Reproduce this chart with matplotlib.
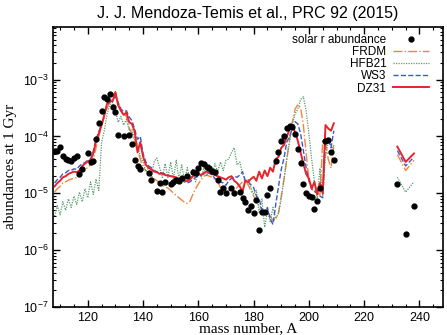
import matplotlib
matplotlib.use('Agg')
import matplotlib.pyplot as plt
import numpy as np
from matplotlib.ticker import MultipleLocator, LogLocator, FixedLocator, NullFormatter

plt.rcParams['font.family'] = ['Liberation Sans', 'DejaVu Sans']
plt.rcParams['mathtext.default'] = 'regular'

# mass numbers of the model curves
A_main = np.arange(108, 210)
A_act = [232, 235, 238]

# log10 abundances
dz31_log = [-4.88, -4.82, -4.78, -4.72, -4.70, -4.66, -4.64, -4.62, -4.63, -4.60,
            -4.52, -4.48, -4.44, -4.42, -4.30, -4.08, -3.95, -3.80, -3.62, -3.42,
            -3.38, -3.38, -3.22, -3.45, -3.55, -3.62, -3.58, -3.75, -3.78, -3.92,
            -4.28, -4.10, -4.35, -4.50, -4.55, -4.58, -4.62, -4.63, -4.66, -4.65,
            -4.68, -4.69, -4.70, -4.71, -4.72, -4.76, -4.74, -4.78, -4.79, -4.76,
            -4.70, -4.68, -4.66, -4.68, -4.64, -4.62, -4.63, -4.66, -4.68, -4.70,
            -4.72, -4.74, -4.76, -4.72, -4.70, -4.78, -4.82, -4.88, -4.97, -4.78,
            -4.80, -4.75, -4.71, -4.78, -4.62, -4.74, -4.60, -4.70, -4.55, -4.62,
            -4.40, -4.36, -4.20, -4.15, -4.00, -3.88, -3.83, -3.92, -4.08, -4.28,
            -4.48, -4.66, -4.74, -4.92, -4.80, -5.02, -4.82, -5.00, -3.80, -3.86,
            -3.90, -3.77]
ws3_log = [-4.82, -4.76, -4.72, -4.66, -4.64, -4.60, -4.60, -4.57, -4.58, -4.52,
           -4.48, -4.46, -4.42, -4.40, -4.26, -4.05, -3.92, -3.78, -3.62, -3.44,
           -3.40, -3.36, -3.30, -3.40, -3.52, -3.56, -3.55, -3.66, -3.72, -3.88,
           -4.05, -4.00, -4.30, -4.45, -4.52, -4.55, -4.60, -4.62, -4.63, -4.65,
           -4.66, -4.68, -4.70, -4.72, -4.73, -4.75, -4.77, -4.80, -4.82, -4.80,
           -4.76, -4.72, -4.70, -4.68, -4.66, -4.64, -4.65, -4.68, -4.74, -4.77,
           -4.80, -4.82, -4.86, -4.78, -4.74, -4.70, -4.72, -4.68, -4.62, -4.78,
           -4.80, -4.85, -4.90, -5.05, -5.10, -5.30, -5.38, -5.25, -5.45, -5.55,
           -5.20, -4.88, -4.58, -4.38, -4.10, -4.00, -3.86, -3.74, -3.78, -3.95,
           -4.25, -4.55, -4.78, -4.92, -4.96, -5.00, -5.05, -5.08, -4.06, -4.04,
           -4.20, -3.90]
frdm_log = [-4.98, -4.92, -4.88, -4.82, -4.80, -4.77, -4.75, -4.74, -4.72, -4.68,
            -4.62, -4.60, -4.54, -4.50, -4.40, -4.20, -4.00, -3.82, -3.65, -3.50,
            -3.40, -3.28, -3.22, -3.45, -3.50, -3.60, -3.65, -3.85, -3.95, -4.10,
            -4.25, -4.40, -4.55, -4.60, -4.65, -4.70, -4.74, -4.78, -4.82, -4.86,
            -4.89, -4.91, -4.95, -5.00, -5.04, -5.08, -5.12, -5.16, -5.18, -5.14,
            -5.02, -4.92, -4.84, -4.76, -4.70, -4.68, -4.70, -4.72, -4.76, -4.80,
            -4.90, -4.97, -4.99, -4.96, -4.92, -4.96, -4.90, -4.85, -4.80, -4.76,
            -4.85, -4.95, -5.05, -5.15, -5.22, -5.28, -5.35, -5.32, -5.40, -5.48,
            -5.45, -5.35, -5.05, -4.75, -4.40, -4.05, -3.75, -3.52, -3.44, -3.50,
            -3.80, -4.30, -4.75, -4.92, -4.98, -5.00, -5.03, -4.08, -4.10, -4.40,
            -4.56, -4.15]
hfb21_log = [-5.40, -5.22, -5.38, -5.15, -5.30, -5.10, -5.25, -5.05, -5.20, -4.98,
             -5.15, -4.92, -5.08, -4.80, -5.02, -4.75, -4.95, -4.10, -3.90, -3.60,
             -3.45, -3.40, -3.55, -3.75, -3.65, -3.80, -3.70, -3.90, -3.88, -4.05,
             -4.15, -4.35, -4.45, -4.62, -4.55, -4.70, -4.45, -4.38, -4.55, -4.72,
             -4.48, -4.72, -4.45, -4.75, -4.42, -4.75, -4.50, -4.78, -4.55, -4.78,
             -4.58, -4.80, -4.60, -4.72, -4.55, -4.70, -4.50, -4.68, -4.48, -4.62,
             -4.45, -4.60, -4.42, -4.40, -4.28, -4.20, -4.50, -4.45, -4.65, -4.80,
             -4.75, -4.90, -5.02, -4.95, -5.35, -5.10, -5.60, -5.30, -5.50, -5.25,
             -5.45, -5.35, -5.10, -4.75, -4.40, -4.10, -3.80, -3.60, -3.52, -3.35,
             -3.30, -3.55, -3.95, -4.40, -4.80, -5.09, -4.56, -5.05, -4.35, -4.10,
             -4.15, -4.25]

dz31_act = [-4.18, -4.45, -4.30]
ws3_act = [-4.25, -4.52, -4.36]
frdm_act = [-4.32, -4.60, -4.42]
hfb21_act = [-4.72, -4.98, -4.80]

# solar r-process abundances (dots)
solar_A = [108, 109, 110, 111, 112, 113, 114, 115, 116, 117, 118, 120, 121, 122,
           123, 124, 125, 126, 127, 128, 129, 130, 131, 133, 135, 136, 137, 138,
           139, 142, 143, 145, 146, 147, 148, 150, 151, 152, 153, 154, 156, 158,
           159, 160, 161, 162, 163, 164, 165, 166, 167, 168, 169, 170, 172, 173,
           175, 176, 177, 178, 179, 180, 181, 182, 183, 184, 185, 186, 188, 189,
           190, 191, 192, 193, 194, 195, 196, 197, 198, 199, 200, 201, 202, 203,
           204, 206, 207, 208, 209, 232, 235, 238]
solar_log = [-4.26, -4.26, -4.18, -4.35, -4.40, -4.42, -4.43, -4.38, -4.35, -4.66,
             -4.57, -4.30, -4.45, -4.43, -4.05, -3.77, -3.55, -3.30, -3.35, -3.26,
             -3.48, -3.57, -3.98, -4.00, -3.97, -4.13, -4.42, -4.52, -4.57, -4.65,
             -4.77, -4.96, -4.82, -4.97, -4.80, -4.84, -4.80, -4.76, -4.78, -4.74,
             -4.69, -4.62, -4.64, -4.55, -4.47, -4.49, -4.53, -4.56, -4.60, -4.63,
             -4.77, -4.97, -4.91, -5.00, -4.90, -5.00, -4.98, -5.08, -5.15, -5.29,
             -5.22, -5.35, -5.12, -5.64, -5.33, -5.33, -5.03, -4.90, -4.44, -4.27,
             -4.08, -4.00, -3.86, -3.82, -3.83, -3.96, -4.23, -4.47, -4.84, -5.00,
             -5.05, -5.06, -5.28, -5.13, -4.90, -4.08, -4.06, -4.27, -4.42, -4.84,
             -5.71, -5.22]

c_red = '#e8232b'
c_blue = '#3b5bc9'
c_orange = '#f5843f'
c_green = '#5a9c6c'

fig = plt.figure(figsize=(4.47, 3.35), dpi=100)
ax = fig.add_axes([0.119, 0.084, 0.872, 0.836])

models = [
    ('FRDM', frdm_log, frdm_act, dict(color=c_orange, ls='-.', lw=1.0)),
    ('HFB21', hfb21_log, hfb21_act, dict(color=c_green, ls=(0, (1, 1)), lw=0.9)),
    ('WS3', ws3_log, ws3_act, dict(color=c_blue, ls='--', lw=1.0)),
    ('DZ31', dz31_log, dz31_act, dict(color=c_red, ls='-', lw=1.4)),
]

handles = []
h = ax.plot(solar_A, 10.0 ** np.array(solar_log), 'o', color='black', ms=3.5,
            zorder=5, label='solar r abundance')[0]
handles.append(h)
for name, main, act, st in models:
    h = ax.plot(A_main, 10.0 ** np.array(main), label=name, **st)[0]
    ax.plot(A_act, 10.0 ** np.array(act), **st)
    handles.append(h)

ax.set_yscale('log')
ax.set_xlim(107.5, 248.5)
ax.set_ylim(1e-7, 8.5e-3)

ax.xaxis.set_major_locator(MultipleLocator(20))
ax.xaxis.set_minor_locator(MultipleLocator(5))
ax.yaxis.set_major_locator(FixedLocator([1e-7, 1e-6, 1e-5, 1e-4, 1e-3]))
ax.set_yticklabels(['10$^{-7}$', '10$^{-6}$', '10$^{-5}$', '10$^{-4}$', '10$^{-3}$'])
ax.yaxis.set_minor_locator(LogLocator(base=10, subs=np.arange(2, 10), numticks=20))
ax.yaxis.set_minor_formatter(NullFormatter())

ax.tick_params(which='both', direction='in', top=True, right=True, labelsize=9)
ax.tick_params(which='major', length=5, width=1)
ax.tick_params(which='minor', length=2.5, width=0.8)
for s in ax.spines.values():
    s.set_linewidth(1.2)

ax.set_xlabel('mass number, A', family='Liberation Serif', fontsize=11, labelpad=-1)
ax.set_ylabel('abundances at 1 Gyr', family='Liberation Serif', fontsize=11, labelpad=4)
ax.set_title('J. J. Mendoza-Temis et al., PRC 92 (2015)', fontsize=11.5, pad=6)

ax.legend(handles=handles, loc='upper right', bbox_to_anchor=(0.985, 1.005),
          frameon=False, markerfirst=False, fontsize=8.5, labelspacing=0.02,
          handlelength=3.0, handletextpad=0.6, numpoints=1, borderpad=0.2)

fig.savefig('out.png', dpi=100)
